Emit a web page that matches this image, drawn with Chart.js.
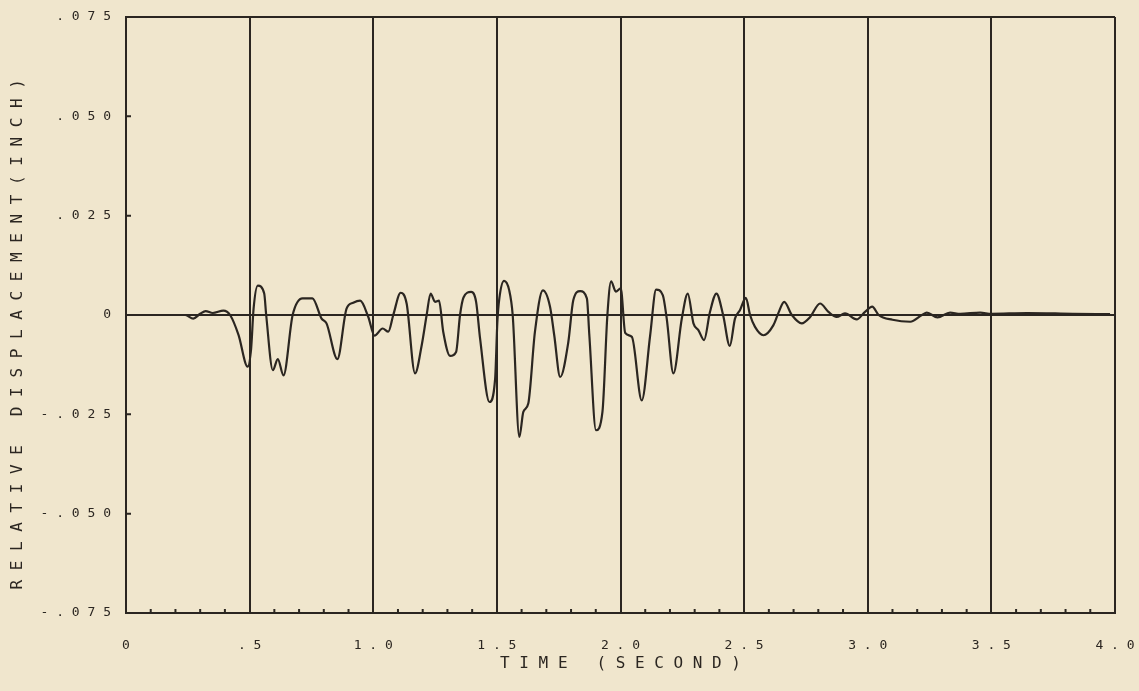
<!DOCTYPE html>
<html>
<head>
<meta charset="utf-8">
<title>Relative displacement</title>
<script src="https://cdn.jsdelivr.net/npm/chart.js@4"></script>
<style>
  html, body { margin: 0; padding: 0; background: #f0e6cd; }
  #wrap { width: 1139px; height: 691px; }
</style>
</head>
<body>
<div id="wrap"><canvas id="myChart" width="1139" height="691"></canvas></div>
<script>
// values
let timeValues = [0.18, 0.24, 0.272, 0.30, 0.322, 0.351, 0.394, 0.421, 0.455, 0.492,
  0.506, 0.516, 0.533, 0.559, 0.567, 0.594, 0.614, 0.637, 0.674, 0.714,
  0.754, 0.791, 0.811, 0.855, 0.892, 0.919, 0.947, 0.980, 1.005, 1.038,
  1.061, 1.081, 1.111, 1.135, 1.169, 1.196, 1.216, 1.232, 1.250, 1.266,
  1.283, 1.311, 1.335, 1.351, 1.365, 1.396, 1.416, 1.432, 1.470, 1.493,
  1.502, 1.510, 1.529, 1.550, 1.564, 1.591, 1.607, 1.627, 1.654, 1.686,
  1.715, 1.732, 1.756, 1.789, 1.809, 1.837, 1.864, 1.874, 1.901, 1.927,
  1.947, 1.962, 1.981, 2.001, 2.019, 2.046, 2.086, 2.120, 2.144, 2.171,
  2.187, 2.214, 2.248, 2.272, 2.295, 2.315, 2.338, 2.362, 2.388, 2.415,
  2.442, 2.463, 2.483, 2.507, 2.524, 2.544, 2.578, 2.618, 2.638, 2.662,
  2.693, 2.733, 2.767, 2.807, 2.841, 2.874, 2.908, 2.955, 2.989, 3.018,
  3.044, 3.100, 3.172, 3.219, 3.239, 3.282, 3.333, 3.374, 3.455, 3.500,
  3.644, 3.830, 3.980];

let dispValues = [0, 0, -0.0009, 0.0003, 0.0010, 0.0005, 0.0011, 0, -0.0050, -0.0130,
  -0.0085, 0.0016, 0.0074, 0.0054, 0, -0.0139, -0.0111, -0.0152, 0, 0.0042,
  0.0042, -0.0009, -0.0021, -0.0111, 0.0016, 0.0031, 0.0036, -0.0005, -0.0052, -0.0034,
  -0.0042, 0, 0.0056, 0.0029, -0.0147, -0.0076, 0, 0.0054, 0.0033, 0.0036,
  -0.0042, -0.0103, -0.0093, 0, 0.0044, 0.0058, 0.0033, -0.0059, -0.0219, -0.0160,
  -0.0017, 0.0042, 0.0086, 0.0062, 0, -0.0307, -0.0244, -0.0223, -0.0042, 0.0062,
  0.0021, -0.0051, -0.0156, -0.0068, 0.0037, 0.0060, 0.0042, -0.0051, -0.0290, -0.0244,
  0, 0.0085, 0.0059, 0.0067, -0.0045, -0.0055, -0.0215, -0.0051, 0.0064, 0.0050,
  -0.0009, -0.0147, -0.0009, 0.0054, -0.0021, -0.0038, -0.0063, 0.0008, 0.0054, 0,
  -0.0078, -0.0009, 0.0012, 0.0043, 0, -0.0030, -0.0051, -0.0026, 0.0004, 0.0033,
  0, -0.0021, -0.0005, 0.0029, 0.0008, -0.0005, 0.0004, -0.0011, 0.0008, 0.0021,
  0, -0.0012, -0.0017, 0, 0.0006, -0.0006, 0.0006, 0.0003, 0.0006, 0.0003,
  0.0005, 0.0003, 0.0002];

let xTickLabels = ['0', '.5', '1.0', '1.5', '2.0', '2.5', '3.0', '3.5', '4.0'];
let yTickLabels = ['-.075', '-.050', '-.025', '0', '.025', '.050', '.075'];
let xTitle = 'TIME (SECOND)';
let yTitle = 'RELATIVE DISPLACEMENT(INCH)';

const ink = '#2b2621';
const mono = 'DejaVu Sans Mono';

// plotter style lettering: a space between every character
function spaced(s) {
    return s.split('').join(' ');
}

let points = [];
for (let i = 0; i < timeValues.length; i++) {
    points.push({ x: timeValues[i], y: dispValues[i] });
}

// short inward marks on the left and bottom axes
const minorTicks = {
    id: 'minorTicks',
    afterDatasetsDraw(chart) {
        const ctx = chart.ctx;
        const xs = chart.scales.x;
        const ys = chart.scales.y;
        const area = chart.chartArea;
        ctx.save();
        ctx.strokeStyle = ink;
        ctx.lineWidth = 2;
        ctx.beginPath();
        for (let k = 1; k < 40; k++) {
            if (k % 5 === 0) continue;
            const px = xs.getPixelForValue(k / 10);
            ctx.moveTo(px, area.bottom);
            ctx.lineTo(px, area.bottom - 4);
        }
        [-0.05, -0.025, 0.025, 0.05].forEach(v => {
            const py = ys.getPixelForValue(v);
            ctx.moveTo(area.left, py);
            ctx.lineTo(area.left + 5, py);
        });
        ctx.stroke();
        ctx.restore();
    }
};

const ctx = document.getElementById('myChart').getContext('2d');
const myChart = new Chart(ctx, {
    type: 'line',
    data: {
        datasets: [{
            data: points,
            borderColor: ink,
            borderWidth: 2.2,
            pointRadius: 0,
            fill: false,
            cubicInterpolationMode: 'monotone'
        }]
    },
    options: {
        responsive: false,
        animation: false,
        layout: { padding: { left: 0, right: 24, top: 17, bottom: 0 } },
        plugins: {
            legend: { display: false },
            tooltip: { enabled: false }
        },
        scales: {
            x: {
                type: 'linear',
                min: 0,
                max: 4,
                afterFit: s => {
                    s.height = 78;
                    s.paddingLeft = 0;
                    s.paddingRight = 0;
                },
                afterBuildTicks: s => {
                    s.ticks = xTickLabels.map(t => ({ value: parseFloat(t) }));
                },
                ticks: {
                    color: ink,
                    font: { family: mono, size: 13 },
                    padding: 25,
                    maxRotation: 0,
                    callback: (v, i) => spaced(xTickLabels[i])
                },
                grid: { color: ink, lineWidth: 2, drawTicks: false },
                border: { color: ink, width: 2 },
                title: {
                    display: true,
                    text: spaced(xTitle),
                    color: ink,
                    font: { family: mono, size: 16 },
                    padding: { top: 4, bottom: 18 }
                }
            },
            y: {
                type: 'linear',
                min: -0.075,
                max: 0.075,
                afterFit: s => {
                    s.width = 126;
                    s.paddingTop = 0;
                    s.paddingBottom = 0;
                },
                afterBuildTicks: s => {
                    s.ticks = yTickLabels.map(t => ({ value: parseFloat(t) }));
                },
                ticks: {
                    color: ink,
                    font: { family: mono, size: 13 },
                    padding: 15,
                    callback: (v, i) => spaced(yTickLabels[i])
                },
                grid: {
                    drawTicks: false,
                    lineWidth: 2,
                    color: c => (c.tick && (c.tick.value === 0 || Math.abs(c.tick.value) === 0.075)) ? ink : 'rgba(0,0,0,0)'
                },
                border: { color: ink, width: 2 },
                title: {
                    display: true,
                    // trailing spaces push the lettering down a little, as in the original
                    text: spaced(yTitle) + '    ',
                    color: ink,
                    font: { family: mono, size: 16 },
                    padding: { top: 8, bottom: 0 }
                }
            }
        }
    },
    plugins: [minorTicks]
});
</script>
</body>
</html>
